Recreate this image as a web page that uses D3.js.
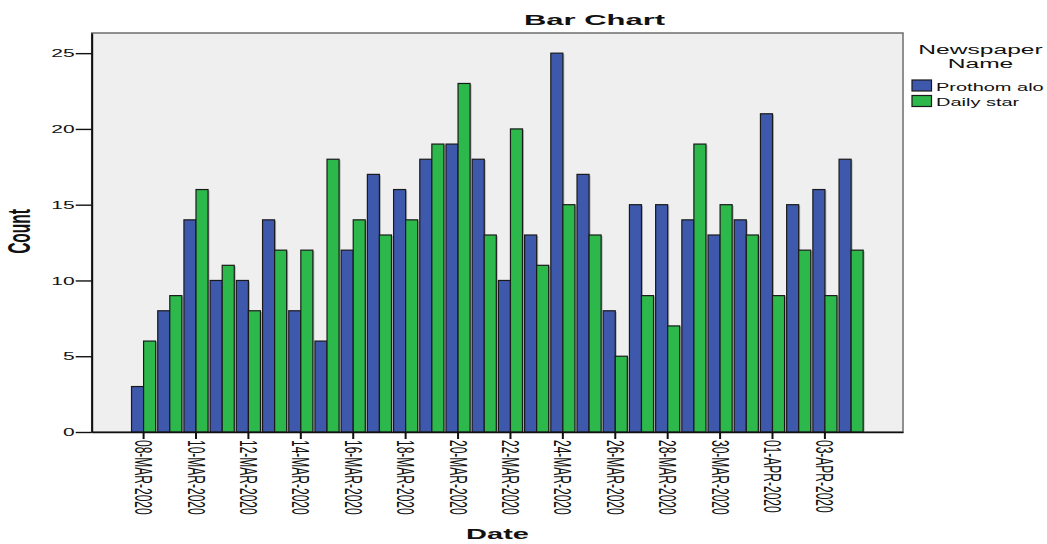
<!DOCTYPE html>
<html>
<head>
<meta charset="utf-8">
<script src="https://cdn.jsdelivr.net/npm/d3@7"></script>
<style>
  body { margin: 0; background: #fff; }
  text { font-family: "Liberation Sans", Arial, sans-serif; fill: #111; }
</style>
</head>
<body>
<svg width="1047" height="544"></svg>
<script>
var dates = ["08-MAR-2020", "09-MAR-2020", "10-MAR-2020", "11-MAR-2020", "12-MAR-2020",
  "13-MAR-2020", "14-MAR-2020", "15-MAR-2020", "16-MAR-2020", "17-MAR-2020",
  "18-MAR-2020", "19-MAR-2020", "20-MAR-2020", "21-MAR-2020", "22-MAR-2020",
  "23-MAR-2020", "24-MAR-2020", "25-MAR-2020", "26-MAR-2020", "27-MAR-2020",
  "28-MAR-2020", "29-MAR-2020", "30-MAR-2020", "31-MAR-2020", "01-APR-2020",
  "02-APR-2020", "03-APR-2020", "04-APR-2020"];
var prothomAlo = [3, 8, 14, 10, 10, 14, 8, 6, 12, 17, 16, 18, 19, 18, 10, 13, 25, 17, 8, 15, 15, 14, 13, 14, 21, 15, 16, 18];
var dailyStar = [6, 9, 16, 11, 8, 12, 12, 18, 14, 13, 14, 19, 23, 13, 20, 11, 15, 13, 5, 9, 7, 19, 15, 13, 9, 12, 9, 12];
var seriesNames = ["Prothom alo", "Daily star"];
var seriesColors = ["#3e58ac", "#2db84b"];
var yTicks = [0, 5, 10, 15, 20, 25];

var svg = d3.select("svg");
var plotLeft = 91.7, plotRight = 903, plotTop = 33, plotBottom = 432;
var sx = 2; // the picture is stretched horizontally

var rows = dates.map(function (d, i) {
  return { date: d, values: [prothomAlo[i], dailyStar[i]] };
});

var x = d3.scaleBand()
  .domain(dates)
  .range([plotLeft, plotRight])
  .paddingInner(0.08)
  .paddingOuter(1.52);

var xs = d3.scaleBand()
  .domain([0, 1])
  .range([0, x.bandwidth()]);

var y = d3.scaleLinear()
  .domain([0, 26.33])
  .range([plotBottom, plotTop]);

// plot background
svg.append("rect")
  .attr("x", plotLeft).attr("y", plotTop)
  .attr("width", plotRight - plotLeft).attr("height", plotBottom - plotTop)
  .attr("fill", "#efefef")
  .attr("stroke", "#6e6e6e")
  .attr("stroke-width", 1.5);

// bars
var group = svg.selectAll("g.day")
  .data(rows)
  .enter().append("g")
  .attr("class", "day")
  .attr("transform", function (d) {
    return "translate(" + x(d.date) + ",0)";
  });

group.selectAll("rect.shadow")
  .data(function (d) { return d.values; })
  .enter().append("rect")
  .attr("class", "shadow")
  .attr("x", function (d, i) { return xs(i) + 1.5; })
  .attr("y", function (d) { return y(d) + 1; })
  .attr("width", xs.bandwidth())
  .attr("height", function (d) { return plotBottom - y(d) - 1; })
  .attr("fill", "#8a8a8a")
  .attr("opacity", 0.6);

group.selectAll("rect.bar")
  .data(function (d) { return d.values; })
  .enter().append("rect")
  .attr("class", "bar")
  .attr("x", function (d, i) { return xs(i); })
  .attr("y", function (d) { return y(d); })
  .attr("width", xs.bandwidth())
  .attr("height", function (d) { return plotBottom - y(d); })
  .attr("fill", function (d, i) { return seriesColors[i]; })
  .attr("stroke", "#1a1a1a")
  .attr("stroke-width", 1.2);

// x axis
var xAxis = svg.append("g")
  .attr("transform", "translate(0," + plotBottom + ")")
  .call(d3.axisBottom(x)
    .tickValues(dates.filter(function (d, i) { return i % 2 === 0; }))
    .tickSize(7)
    .tickSizeOuter(0));
xAxis.select(".domain").attr("stroke", "#111").attr("stroke-width", 1.4);
xAxis.selectAll(".tick line").attr("stroke", "#111").attr("stroke-width", 2);
xAxis.selectAll(".tick text")
  .attr("x", 0).attr("y", 0).attr("dy", "0.35em")
  .attr("text-anchor", "start")
  .attr("transform", "translate(0,8) scale(" + sx + ",1) rotate(90)")
  .style("font-size", "12px")
  .attr("fill", "#111");

// y axis
var yAxis = svg.append("g")
  .attr("transform", "translate(" + plotLeft + ",0)")
  .call(d3.axisLeft(y).tickValues(yTicks).tickSize(16).tickSizeOuter(0));
yAxis.select(".domain").attr("stroke", "#111").attr("stroke-width", 2);
yAxis.selectAll(".tick line").attr("stroke", "#111").attr("stroke-width", 1.4);
yAxis.selectAll(".tick text")
  .attr("x", 0).attr("dy", "0.34em")
  .attr("text-anchor", "end")
  .attr("transform", "translate(-17,0) scale(" + sx + ",1)")
  .style("font-size", "10.5px")
  .attr("fill", "#333");

// stretched text helper
function label(str, tx, ty, size, weight, anchor, rot) {
  svg.append("text")
    .attr("transform", "translate(" + tx + "," + ty + ") scale(" + sx + ",1)" + (rot ? " rotate(" + rot + ")" : ""))
    .attr("text-anchor", anchor)
    .style("font-size", size + "px")
    .style("font-weight", weight)
    .text(str);
}

label("Bar Chart", 594.5, 25, 15.5, "bold", "middle");
label("Date", 497.5, 539, 14.5, "bold", "middle");
label("Count", 30, 231.5, 15.5, "bold", "middle", -90);

// legend
label("Newspaper", 980.5, 54, 12.3, "normal", "middle");
label("Name", 980.5, 68, 12.3, "normal", "middle");

var legend = svg.selectAll("g.legend")
  .data(seriesNames)
  .enter().append("g")
  .attr("class", "legend")
  .attr("transform", function (d, i) {
    return "translate(912," + (80 + i * 15.5) + ")";
  });

legend.append("rect")
  .attr("width", 19.5)
  .attr("height", 11)
  .attr("fill", function (d, i) { return seriesColors[i]; })
  .attr("stroke", "#1a1a1a")
  .attr("stroke-width", 1.2);

legend.append("text")
  .attr("transform", "translate(24,10.5) scale(" + sx + ",1)")
  .style("font-size", "10px")
  .text(function (d) { return d; });
</script>
</body>
</html>
